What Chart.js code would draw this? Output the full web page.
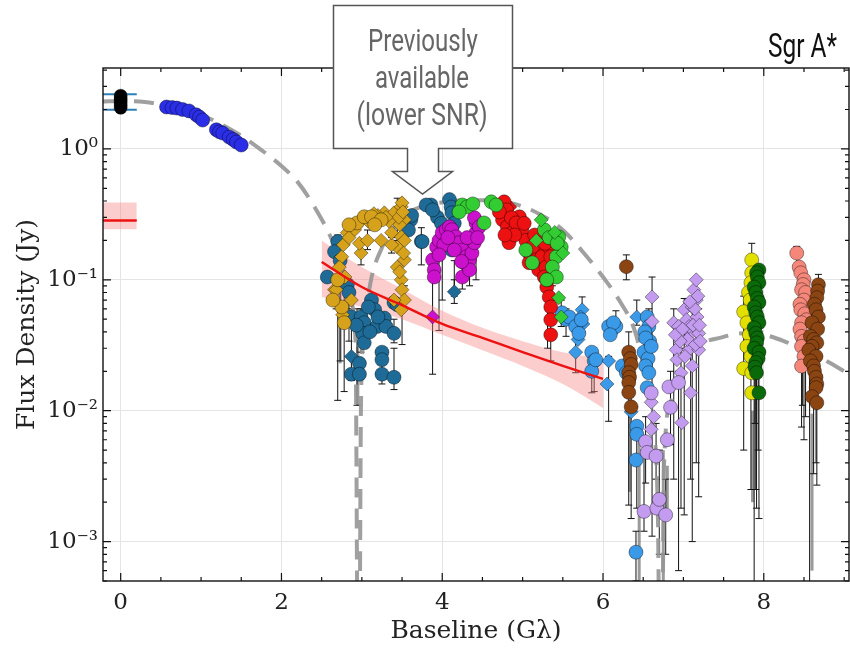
<!DOCTYPE html>
<html lang="en">
<head>
<meta charset="UTF-8">
<title>Sgr A* - Flux Density vs Baseline</title>
<script src="https://cdn.jsdelivr.net/npm/chart.js"></script>
<style>
  html, body { margin: 0; padding: 0; background: #fff; }
  #wrap { position: relative; width: 850px; height: 648px; }
  #wrap canvas { position: absolute; left: 0; top: 0; }
  #overlay { position: absolute; left: 0; top: 0; pointer-events: none; }
</style>
</head>
<body>
<div id="wrap">
  <canvas id="chart" width="850" height="648"></canvas>
  <svg id="overlay" width="850" height="648" font-family="Roboto, 'Open Sans', sans-serif">
    <path d="M333.5,5.5 H512.5 V148.5 H438.5 V171.5 H452.5 L422.5,194 L392.5,171.5 H407.5 V148.5 H333.5 Z"
          fill="#fff" stroke="#555" stroke-width="1.5"/>
    <g fill="#666" font-size="31" text-anchor="middle">
      <text x="423" y="51" textLength="110" lengthAdjust="spacingAndGlyphs">Previously</text>
      <text x="422" y="88" textLength="94" lengthAdjust="spacingAndGlyphs">available</text>
      <text x="422" y="125" textLength="131" lengthAdjust="spacingAndGlyphs">(lower SNR)</text>
    </g>
    <text x="837" y="57" text-anchor="end" font-size="34" fill="#111" textLength="69" lengthAdjust="spacingAndGlyphs">Sgr A*</text>
  </svg>
</div>

<script>
  // ---- axes ----
  const xMajor = [0, 2, 4, 6, 8];
  const xMinor = [0.5, 1, 1.5, 2.5, 3, 3.5, 4.5, 5, 5.5, 6.5, 7, 7.5, 8.5, 9];
  const yMajor = [1e-3, 1e-2, 1e-1, 1];
  const yTickLabels = ['10⁻³', '10⁻²', '10⁻¹', '10⁰'];

  // ---- model curve (grey dashed) ----
  const curveX = [-0.22, 0, 0.3, 0.6, 0.9, 1.2, 1.5, 1.8, 2.0, 2.2, 2.4, 2.6, 2.75, 2.85, 2.92, 2.96, 2.99, 3.03, 3.1, 3.25, 3.4, 3.6, 3.8, 4.0, 4.3, 4.6, 4.9, 5.2, 5.5, 5.8, 6.0, 6.2, 6.4, 6.5, 6.6, 6.68, 6.72, 6.76, 6.85, 7.0, 7.2, 7.45, 7.75, 8.0, 8.25, 8.5, 8.75, 9.06];
  const curveY = [2.3, 2.32, 2.28, 2.13, 1.92, 1.6, 1.26, 0.93, 0.74, 0.56, 0.37, 0.22, 0.13, 0.07, 0.035, 0.00001, 0.012, 0.04, 0.09, 0.176, 0.25, 0.33, 0.37, 0.39, 0.405, 0.405, 0.38, 0.32, 0.24, 0.15, 0.105, 0.07, 0.04, 0.022, 0.009, 0.002, 0.00001, 0.004, 0.012, 0.024, 0.032, 0.036, 0.039, 0.038, 0.034, 0.029, 0.0245, 0.019];

  // ---- red fit + band ----
  const fitX = [2.5, 3.0, 3.5, 4.0, 4.5, 5.0, 5.5, 6.0];
  const fitY = [0.137, 0.088, 0.064, 0.046, 0.036, 0.028, 0.022, 0.0175];
  const fitHi = [0.20, 0.125, 0.085, 0.058, 0.043, 0.034, 0.028, 0.025];
  const fitLo = [0.074, 0.062, 0.05, 0.038, 0.029, 0.022, 0.016, 0.0105];
  const zeroX = [-0.22, 0.2];
  const zeroY = 0.284, zeroHi = 0.39, zeroLo = 0.243;
  const totalFluxHi = 2.62, totalFluxLo = 1.99;

  // ---- measurements [x (G lambda), flux (Jy)] ----
  const blackPts = [[0, 2.55], [0, 2.45], [0, 2.35], [0, 2.25], [0, 2.15], [0, 2.06]];
  const bluePts = [[0.57, 2.09], [0.64, 2.07], [0.70, 2.05], [0.77, 2.0], [0.85, 1.95], [0.94, 1.82], [0.98, 1.75], [1.02, 1.66], [1.19, 1.40], [1.23, 1.35], [1.27, 1.32], [1.35, 1.23], [1.40, 1.18], [1.44, 1.13], [1.5, 1.07]];
  const tealCirc = [[2.70, 0.196], [2.66, 0.164], [2.57, 0.105], [2.82, 0.092], [2.84, 0.080], [2.87, 0.052], [2.99, 0.052], [3.03, 0.047], [3.12, 0.070], [3.16, 0.059], [3.19, 0.044], [3.28, 0.051], [3.30, 0.044], [3.40, 0.039], [3.01, 0.039], [3.03, 0.033], [3.25, 0.028], [3.25, 0.0245], [2.97, 0.023], [2.87, 0.019], [2.97, 0.019], [3.25, 0.019], [3.40, 0.018], [3.40, 0.067], [3.44, 0.0645], [3.61, 0.287], [3.74, 0.196], [3.86, 0.373], [3.94, 0.30], [3.99, 0.27], [3.80, 0.373], [3.88, 0.342], [4.09, 0.41], [4.11, 0.36], [4.12, 0.325], [4.15, 0.27], [4.12, 0.169], [3.75, 0.196], [2.73, 0.14], [3.58, 0.24], [3.62, 0.31], [3.08, 0.062], [3.20, 0.052], [2.93, 0.045], [3.10, 0.04]];
  const tealDiam = [[2.87, 0.026], [4.15, 0.081]];
  const goldDiam = [[2.66, 0.084], [2.82, 0.229], [3.28, 0.325], [3.40, 0.325], [3.49, 0.361], [3.50, 0.387], [3.53, 0.287], [3.49, 0.213], [3.44, 0.178], [3.44, 0.125], [3.49, 0.10], [3.50, 0.084], [3.53, 0.070], [3.49, 0.059], [3.40, 0.070], [2.75, 0.15], [2.72, 0.125], [2.68, 0.084], [2.76, 0.054], [2.87, 0.070], [2.99, 0.16], [2.97, 0.19], [3.07, 0.20], [3.37, 0.185], [3.37, 0.229], [3.24, 0.20], [2.91, 0.241], [3.34, 0.28], [3.47, 0.263], [3.53, 0.20], [3.53, 0.142], [3.47, 0.115], [2.77, 0.185], [2.84, 0.21], [3.46, 0.30], [3.52, 0.16], [3.20, 0.31], [3.08, 0.28], [2.79, 0.105], [3.30, 0.30], [3.15, 0.32], [2.99, 0.29], [3.51, 0.33]];
  const goldCirc = [[2.94, 0.272], [3.03, 0.303], [3.12, 0.303], [3.24, 0.287], [2.75, 0.062], [2.78, 0.047], [2.70, 0.10], [2.84, 0.263], [3.16, 0.263], [2.64, 0.07]];
  const magCirc = [[3.88, 0.142], [3.90, 0.119], [3.90, 0.105], [3.93, 0.178], [3.96, 0.20], [4.0, 0.229], [4.05, 0.241], [4.09, 0.254], [4.12, 0.241], [4.17, 0.213], [4.21, 0.192], [4.25, 0.169], [4.30, 0.15], [4.27, 0.135], [4.25, 0.105], [4.34, 0.142], [4.37, 0.16], [4.40, 0.192], [4.42, 0.229], [4.42, 0.272], [4.40, 0.298], [4.46, 0.254], [4.34, 0.119], [4.02, 0.185], [4.15, 0.169], [3.96, 0.155], [4.31, 0.21], [4.24, 0.138], [4.07, 0.21], [4.44, 0.21]];
  const magDiam = [[3.88, 0.052], [4.19, 0.18], [4.36, 0.175]];
  const greenCirc = [[4.25, 0.373], [4.31, 0.361], [4.21, 0.33], [4.61, 0.394], [4.67, 0.373], [4.52, 0.272], [5.27, 0.241], [5.33, 0.21], [5.45, 0.213], [5.48, 0.178], [5.42, 0.15], [5.37, 0.125], [5.42, 0.105], [5.04, 0.169], [5.12, 0.135], [5.30, 0.10], [4.38, 0.38], [5.43, 0.19]];
  const greenDiam = [[5.23, 0.287], [5.45, 0.073], [5.48, 0.052], [5.17, 0.20], [5.40, 0.23], [5.50, 0.16]];
  const redCirc = [[4.77, 0.394], [4.80, 0.342], [4.75, 0.287], [4.81, 0.254], [4.87, 0.229], [4.83, 0.192], [4.96, 0.303], [4.99, 0.241], [5.04, 0.20], [5.08, 0.16], [5.08, 0.135], [5.12, 0.178], [5.17, 0.142], [5.20, 0.119], [5.24, 0.15], [5.29, 0.125], [5.27, 0.105], [5.33, 0.178], [5.35, 0.15], [5.30, 0.088], [5.33, 0.074], [5.35, 0.062], [5.35, 0.0495], [5.35, 0.038], [4.71, 0.33], [4.86, 0.298], [4.92, 0.272], [4.90, 0.22], [5.02, 0.27], [5.15, 0.22], [5.28, 0.19], [5.31, 0.10], [4.78, 0.22]];
  const redDiam = [[4.84, 0.36], [5.10, 0.21], [5.22, 0.17], [5.32, 0.13]];
  const ltBlueCirc = [[5.49, 0.056], [5.54, 0.05], [5.58, 0.052], [5.66, 0.044], [5.70, 0.039], [5.73, 0.0495], [5.86, 0.028], [5.89, 0.024], [5.86, 0.02], [5.91, 0.0245], [6.11, 0.0415], [6.07, 0.044], [6.16, 0.044], [6.13, 0.047], [6.09, 0.038], [6.24, 0.022], [6.29, 0.0195], [6.55, 0.052], [6.57, 0.044], [6.52, 0.040], [6.58, 0.034], [6.53, 0.036], [6.51, 0.028], [6.56, 0.025], [6.53, 0.022], [6.57, 0.0195], [6.55, 0.015], [6.60, 0.031], [6.42, 0.0076], [6.42, 0.0066], [6.41, 0.0042], [6.41, 0.00083]];
  const ltBlueDiam = [[5.74, 0.059], [5.72, 0.052], [5.75, 0.046], [5.69, 0.035], [5.66, 0.028], [6.07, 0.024], [6.05, 0.016], [6.42, 0.052], [6.35, 0.0098]];
  const brownPts = [[6.29, 0.126], [6.32, 0.028], [6.34, 0.025], [6.35, 0.0225], [6.32, 0.0195], [6.33, 0.018], [6.32, 0.0164], [6.32, 0.0138], [6.35, 0.0107]];
  const lavCirc = [[6.60, 0.0137], [6.53, 0.0058], [6.55, 0.0048], [6.66, 0.0045], [6.51, 0.0017], [6.67, 0.0018], [6.70, 0.0021], [6.78, 0.0016], [6.80, 0.006], [6.82, 0.0152], [6.84, 0.0106], [6.94, 0.0164]];
  const lavDiam = [[6.61, 0.074], [6.61, 0.048], [6.60, 0.0116], [6.63, 0.009], [6.60, 0.0072], [6.88, 0.047], [6.94, 0.044], [6.91, 0.0292], [6.92, 0.0245], [6.97, 0.0195], [7.01, 0.059], [7.04, 0.0495], [7.09, 0.039], [7.07, 0.0292], [7.11, 0.022], [7.09, 0.0137], [7.13, 0.084], [7.16, 0.070], [7.17, 0.052], [7.19, 0.039], [7.19, 0.0292], [7.16, 0.10], [7.11, 0.062], [7.07, 0.044], [6.98, 0.0081], [7.14, 0.06], [7.05, 0.035], [6.96, 0.034], [7.12, 0.045], [6.90, 0.038], [7.02, 0.026], [7.15, 0.032], [7.18, 0.075], [7.08, 0.068], [6.99, 0.042], [7.20, 0.045], [7.21, 0.034]];
  const yellowPts = [[7.85, 0.142], [7.85, 0.113], [7.84, 0.095], [7.81, 0.08], [7.83, 0.07], [7.75, 0.057], [7.79, 0.047], [7.82, 0.038], [7.79, 0.031], [7.84, 0.026], [7.75, 0.021], [7.85, 0.0195], [7.85, 0.0137]];
  const dkGreenPts = [[7.94, 0.119], [7.91, 0.113], [7.92, 0.105], [7.94, 0.095], [7.88, 0.088], [7.90, 0.08], [7.92, 0.072], [7.94, 0.067], [7.88, 0.062], [7.90, 0.056], [7.92, 0.052], [7.94, 0.047], [7.88, 0.043], [7.90, 0.039], [7.92, 0.036], [7.91, 0.033], [7.88, 0.030], [7.94, 0.028], [7.93, 0.025], [7.90, 0.0233], [7.89, 0.0215], [7.91, 0.0195], [7.94, 0.0137]];
  const salmonPts = [[8.41, 0.16], [8.44, 0.125], [8.46, 0.113], [8.50, 0.10], [8.49, 0.092], [8.47, 0.084], [8.52, 0.08], [8.50, 0.070], [8.45, 0.065], [8.46, 0.059], [8.51, 0.055], [8.53, 0.0495], [8.47, 0.047], [8.45, 0.042], [8.47, 0.037], [8.50, 0.034], [8.47, 0.031], [8.50, 0.026], [8.47, 0.0219]];
  const brown2Pts = [[8.68, 0.0916], [8.67, 0.082], [8.66, 0.073], [8.63, 0.065], [8.65, 0.059], [8.68, 0.052], [8.60, 0.047], [8.67, 0.042], [8.58, 0.037], [8.62, 0.035], [8.66, 0.033], [8.60, 0.031], [8.56, 0.029], [8.65, 0.026], [8.58, 0.024], [8.62, 0.022], [8.63, 0.02], [8.65, 0.018], [8.66, 0.016], [8.65, 0.015], [8.60, 0.0128], [8.66, 0.0115]];

  // ---- error bars [x, low, high] ----
  const tealErr = [[2.70, 0.012, 0.22], [2.73, 0.024, 0.10], [2.84, 0.034, 0.08], [2.94, 0.011, 0.06], [2.99, 0.028, 0.06], [3.40, 0.0145, 0.03], [3.40, 0.033, 0.05], [3.74, 0.13, 0.25], [4.15, 0.066, 0.10], [3.03, 0.03, 0.056], [3.25, 0.016, 0.03], [2.87, 0.017, 0.06], [3.96, 0.041, 0.19]];
  const goldErr = [[2.78, 0.014, 0.09], [3.50, 0.032, 0.07], [3.44, 0.20, 0.42], [3.07, 0.17, 0.24], [3.37, 0.16, 0.21], [2.99, 0.13, 0.2], [2.68, 0.06, 0.1], [3.53, 0.06, 0.09]];
  const magErr = [[3.88, 0.019, 0.10], [4.00, 0.07, 0.18], [4.15, 0.075, 0.14], [4.25, 0.085, 0.15], [4.42, 0.1, 0.3], [4.46, 0.2, 0.3], [4.34, 0.09, 0.16]];
  const redErr = [[5.35, 0.024, 0.05], [5.48, 0.044, 0.07], [5.37, 0.09, 0.16], [5.31, 0.03, 0.08]];
  const ltBlueErr = [[5.66, 0.0195, 0.035], [5.74, 0.04, 0.074], [5.86, 0.0137, 0.03], [5.89, 0.014, 0.028], [6.07, 0.0083, 0.026], [6.16, 0.044, 0.058], [6.42, 0.045, 0.07], [6.41, 0.0005, 0.0012], [6.51, 0.0012, 0.005], [6.42, 0.0018, 0.0075], [6.57, 0.02, 0.06], [5.54, 0.037, 0.06]];
  const brownErr = [[6.29, 0.1, 0.155], [6.32, 0.0019, 0.04], [6.35, 0.0015, 0.02]];
  const lavErr = [[6.61, 0.0011, 0.105], [6.53, 0.0028, 0.009], [6.66, 0.003, 0.008], [6.70, 0.0008, 0.005], [6.78, 0.0008, 0.003], [6.88, 0.003, 0.06], [6.94, 0.0006, 0.02], [6.97, 0.0018, 0.03], [7.01, 0.0016, 0.072], [7.09, 0.003, 0.05], [7.16, 0.004, 0.1], [7.19, 0.0022, 0.06], [7.11, 0.001, 0.07], [6.84, 0.0055, 0.02]];
  const yellowErr = [[7.75, 0.005, 0.075], [7.85, 0.10, 0.19], [7.84, 0.0025, 0.15]];
  const dkGreenErr = [[7.88, 0.0002, 0.12], [7.91, 0.0018, 0.1], [7.94, 0.0015, 0.08], [7.90, 0.0025, 0.06], [7.93, 0.005, 0.05], [7.89, 0.008, 0.04]];
  const salmonErr = [[8.41, 0.12, 0.18], [8.50, 0.006, 0.05], [8.47, 0.0075, 0.04], [8.52, 0.009, 0.06], [8.48, 0.011, 0.03]];
  const brown2Err = [[8.57, 0.0002, 0.04], [8.62, 0.0033, 0.03], [8.66, 0.0027, 0.02], [8.65, 0.004, 0.025], [8.68, 0.08, 0.11]];
  const greyErr = [[8.60, 0.0006, 0.0095], [6.33, 0.0024, 0.0095], [6.80, 0.0018, 0.0038], [2.95, 0.011, 0.031], [2.73, 0.023, 0.085], [7.86, 0.002, 0.01], [6.45, 0.0004, 0.006], [6.75, 0.0004, 0.005]];

  const errGroups = [
    { bars: greyErr, color: 'rgba(120,120,120,0.75)', width: 3, cap: false },
    { bars: [].concat(tealErr, goldErr, magErr, redErr, ltBlueErr, brownErr, lavErr, yellowErr, dkGreenErr, salmonErr, brown2Err), color: '#111', width: 1, cap: true }
  ];

  const serif = "'DejaVu Serif', 'Liberation Serif', serif";
  const edge = 'rgba(0,0,0,0.55)';

  function toXY(arr) { return arr.map(p => ({ x: p[0], y: p[1] })); }
  function marks(arr, color, style, order) {
    return {
      type: 'scatter', data: toXY(arr), pointStyle: style, pointRadius: 7,
      backgroundColor: color, borderColor: edge, borderWidth: 0.7, order: order
    };
  }
  function line(xs, ys, extra) {
    return Object.assign({
      type: 'line', data: xs.map((x, i) => ({ x: x, y: Array.isArray(ys) ? ys[i] : ys })),
      pointRadius: 0, borderWidth: 0, fill: false
    }, extra);
  }

  const datasets = [
    // band around short-baseline fit
    line(fitX, fitLo, { order: 30, cubicInterpolationMode: 'monotone' }),
    line(fitX, fitHi, { order: 30, fill: '-1', backgroundColor: 'rgba(248,130,130,0.4)', cubicInterpolationMode: 'monotone' }),
    line(zeroX, zeroLo, { order: 30 }),
    line(zeroX, zeroHi, { order: 30, fill: '-1', backgroundColor: 'rgba(248,130,130,0.4)' }),
    // model curve
    line(curveX, curveY, { order: 25, borderWidth: 4, borderColor: 'rgba(150,150,150,0.9)', borderDash: [20, 11], cubicInterpolationMode: 'monotone' }),
    // total flux range lines
    line(zeroX, totalFluxHi, { order: 20, borderWidth: 2, borderColor: '#2f7fb5' }),
    line(zeroX, totalFluxLo, { order: 20, borderWidth: 2, borderColor: '#2f7fb5' }),
    // markers
    marks(tealCirc, '#1f6b97', 'circle', 15),
    marks(tealDiam, '#1f6b97', 'rectRot', 15),
    marks(goldCirc, '#d6a21c', 'circle', 14),
    marks(goldDiam, '#d6a21c', 'rectRot', 14),
    marks(magCirc, '#cc11cc', 'circle', 13),
    marks(magDiam, '#cc11cc', 'rectRot', 13),
    marks(greenCirc, '#33cc33', 'circle', 12),
    marks(greenDiam, '#33cc33', 'rectRot', 11),
    marks(redCirc, '#ee1111', 'circle', 12),
    marks(redDiam, '#ee1111', 'rectRot', 12),
    marks(ltBlueCirc, '#3b9ae8', 'circle', 13),
    marks(ltBlueDiam, '#3b9ae8', 'rectRot', 13),
    marks(brownPts, '#8b4513', 'circle', 10),
    marks(lavCirc, '#c39bef', 'circle', 11),
    marks(lavDiam, '#c39bef', 'rectRot', 11),
    marks(yellowPts, '#e3e000', 'circle', 12),
    marks(dkGreenPts, '#0a6a0a', 'circle', 10),
    marks(salmonPts, '#f4877a', 'circle', 12),
    marks(brown2Pts, '#8b4513', 'circle', 10),
    marks(bluePts, '#2a2ee6', 'circle', 10),
    Object.assign(marks(blackPts, '#000', 'circle', 10), { pointRadius: 6.5 }),
    // fits
    line(fitX, fitY, { order: 2, borderWidth: 2.4, borderColor: '#ee1111', cubicInterpolationMode: 'monotone' }),
    line(zeroX, zeroY, { order: 2, borderWidth: 2.4, borderColor: '#ee1111' })
  ];

  // vertical error bars, placed through the scales
  const errorBars = {
    id: 'errorBars',
    beforeDatasetsDraw(chart) {
      const { ctx, chartArea: a, scales: { x, y } } = chart;
      ctx.save();
      ctx.beginPath();
      ctx.rect(a.left, a.top, a.width, a.height);
      ctx.clip();
      errGroups.forEach(g => {
        ctx.strokeStyle = g.color;
        ctx.lineWidth = g.width;
        g.bars.forEach(([bx, lo, hi]) => {
          const px = x.getPixelForValue(bx);
          const p1 = y.getPixelForValue(lo), p2 = y.getPixelForValue(hi);
          ctx.beginPath(); ctx.moveTo(px, p1); ctx.lineTo(px, p2); ctx.stroke();
          if (g.cap) {
            [p1, p2].forEach(py => {
              ctx.beginPath(); ctx.moveTo(px - 3.5, py); ctx.lineTo(px + 3.5, py); ctx.stroke();
            });
          }
        });
      });
      ctx.restore();
    }
  };

  // frame with inward ticks on all four sides
  const yMinor = [];
  yMajor.concat([10]).forEach(d => {
    for (let m = 2; m <= 9; m++) yMinor.push(d / 10 * m);
  });
  const frameTicks = {
    id: 'frameTicks',
    afterDraw(chart) {
      const { ctx, chartArea: a, scales: { x, y } } = chart;
      ctx.save();
      ctx.strokeStyle = '#111';
      ctx.lineWidth = 1.4;
      ctx.strokeRect(a.left, a.top, a.width, a.height);
      ctx.lineWidth = 1.2;
      const xt = (v, len) => {
        const px = x.getPixelForValue(v);
        if (px < a.left || px > a.right) return;
        ctx.beginPath();
        ctx.moveTo(px, a.bottom); ctx.lineTo(px, a.bottom - len);
        ctx.moveTo(px, a.top); ctx.lineTo(px, a.top + len);
        ctx.stroke();
      };
      const yt = (v, len) => {
        const py = y.getPixelForValue(v);
        if (py < a.top || py > a.bottom) return;
        ctx.beginPath();
        ctx.moveTo(a.left, py); ctx.lineTo(a.left + len, py);
        ctx.moveTo(a.right, py); ctx.lineTo(a.right - len, py);
        ctx.stroke();
      };
      xMajor.forEach(v => xt(v, 8));
      xMinor.forEach(v => xt(v, 4));
      yMajor.forEach(v => yt(v, 8));
      yMinor.forEach(v => yt(v, 4));
      ctx.restore();
    }
  };

  new Chart(document.getElementById('chart'), {
    type: 'scatter',
    data: { datasets: datasets },
    options: {
      responsive: false,
      animation: false,
      events: [],
      layout: { autoPadding: false, padding: { top: 68, right: 1, left: 0, bottom: 0 } },
      plugins: { legend: { display: false }, tooltip: { enabled: false } },
      scales: {
        x: {
          type: 'linear', min: -0.22, max: 9.06,
          afterBuildTicks: s => { s.ticks = xMajor.map(v => ({ value: v })); },
          afterFit: s => { s.height = 67; },
          grid: { color: '#e4e4e4', drawTicks: false },
          border: { display: false },
          ticks: { padding: 8, color: '#222', font: { family: serif, size: 23 }, callback: v => String(v) },
          title: { display: true, text: 'Baseline (Gλ)', color: '#222', font: { family: serif, size: 25 }, padding: { top: 0, bottom: 2 } }
        },
        y: {
          type: 'logarithmic', min: 5.0e-4, max: 4.15,
          afterBuildTicks: s => { s.ticks = yMajor.map(v => ({ value: v })); },
          afterFit: s => { s.width = 103; },
          grid: { color: '#e4e4e4', drawTicks: false },
          border: { display: false },
          ticks: { padding: 5, color: '#222', font: { family: serif, size: 23 },
                   callback: v => { const i = yMajor.findIndex(m => Math.abs(m - v) / m < 1e-6); return i >= 0 ? yTickLabels[i] : ''; } },
          title: { display: true, text: 'Flux Density (Jy)', color: '#222', font: { family: serif, size: 25 }, padding: { top: 12, bottom: 0 } }
        }
      }
    },
    plugins: [errorBars, frameTicks]
  });
</script>
</body>
</html>
